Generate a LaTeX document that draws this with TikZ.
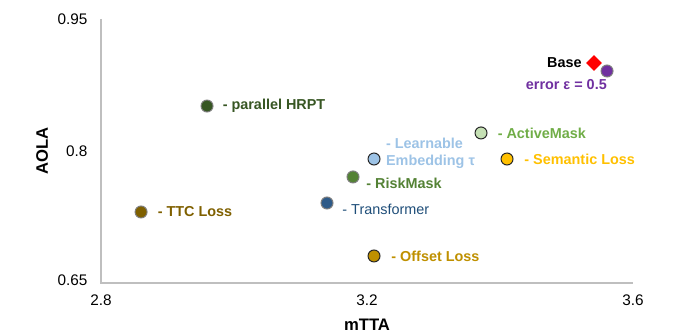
\documentclass[tikz,border=0pt]{standalone}
\usepackage{fontspec}
\setmainfont{Liberation Sans}
\usetikzlibrary{positioning,shapes.geometric}
\definecolor{axisgrey}{HTML}{BFBFBF}
\definecolor{rimgrey}{HTML}{7F7F7F}
\definecolor{hrptc}{HTML}{375623}
\definecolor{riskc}{HTML}{548235}
\definecolor{activec}{HTML}{C5E0B4}
\definecolor{activet}{HTML}{70AD47}
\definecolor{learnc}{HTML}{9DC3E6}
\definecolor{semc}{HTML}{FFC000}
\definecolor{transc}{HTML}{2E5A88}
\definecolor{transt}{HTML}{1F4E79}
\definecolor{ttcc}{HTML}{7F6000}
\definecolor{offc}{HTML}{BF9000}
\definecolor{errc}{HTML}{7030A0}
\tikzset{
    dot/.style = {circle, inner sep=0pt, minimum size=9pt, line width=0.75pt, draw=rimgrey},
    dotblack/.style = {dot, draw=black!85},
    lab/.style = {inner sep=0pt, font=\fontsize{10.8pt}{13pt}\selectfont\bfseries},
    ticklab/.style = {inner sep=0pt, font=\fontsize{11.5pt}{13pt}\selectfont},
    axtitle/.style = {inner sep=0pt, font=\fontsize{12.5pt}{14pt}\selectfont\bfseries}
}
\begin{document}
\begin{tikzpicture}[x=498.75pt,y=660pt]
        \useasboundingbox (2.6481,0.59091) rectangle (3.6887,0.97159);

        % axes
        \coordinate (ytop) at (2.8,0.95);
        \coordinate (orig) at (2.8,0.65);
        \coordinate (xend) at (3.6,0.65);
        \draw[axisgrey, line width=1pt] (ytop) -- (orig) -- (xend);

        \node[ticklab, anchor=east] (y95) at ([xshift=-10pt]ytop) {0.95};
        \node[ticklab, anchor=east] (y80) at ([xshift=-10pt]2.8,0.80) {0.8};
        \node[ticklab, anchor=east] (y65) at ([xshift=-10pt,yshift=2pt]orig) {0.65};
        \node[ticklab] (x28) at (2.8,0.63068) {2.8};
        \node[ticklab] (x32) at (3.2,0.63068) {3.2};
        \node[ticklab] (x36) at (3.6,0.63068) {3.6};
        \node[axtitle, rotate=90] (ytitle) at (2.7113,0.80) {AOLA};
        \node[axtitle] (xtitle) at (3.2,0.60227) {mTTA};

        % data points
        \node[dot, fill=hrptc] (hrpt) at (2.9594,0.8511) {};
        \node[diamond, fill=red, inner sep=0pt, minimum size=12pt] (base) at (3.5414,0.9000) {};
        \node[dot, fill=errc] (err) at (3.5609,0.8909) {};
        \node[dotblack, fill=activec] (active) at (3.3714,0.8205) {};
        \node[dotblack, fill=learnc] (learn) at (3.2105,0.7909) {};
        \node[dotblack, fill=semc] (sem) at (3.4105,0.7909) {};
        \node[dot, fill=riskc] (risk) at (3.1789,0.7705) {};
        \node[dot, fill=transc] (trans) at (3.1398,0.7409) {};
        \node[dot, fill=ttcc] (ttc) at (2.8602,0.7307) {};
        \node[dotblack, fill=offc] (offset) at (3.2105,0.6807) {};

        % labels
        \node[lab, text=hrptc, right=6.75pt of hrpt] (hrptlab) {- parallel HRPT};
        \node[lab, left=3pt of base] (baselab) {Base};
        \node[lab, text=errc, anchor=base east] (errlab) at ([yshift=-9pt]err.south) {error ε = 0.5};
        \node[lab, text=activet, right=7.5pt of active] (activelab) {- ActiveMask};
        \node[lab, text=learnc, align=left, anchor=west] (learnlab) at ([xshift=4pt,yshift=4.5pt]learn.east) {- Learnable\\Embedding τ};
        \node[lab, text=semc, right=8pt of sem] (semlab) {- Semantic Loss};
        \node[lab, text=riskc, anchor=west] (risklab) at ([xshift=5pt,yshift=-4.5pt]risk.east) {- RiskMask};
        \node[lab, font=\fontsize{10.8pt}{13pt}\selectfont, text=transt, anchor=west] (translab) at ([xshift=6.5pt,yshift=-5pt]trans.east) {- Transformer};
        \node[lab, text=ttcc, right=7.5pt of ttc] (ttclab) {- TTC Loss};
        \node[lab, text=offc, right=8pt of offset] (offsetlab) {- Offset Loss};
    \end{tikzpicture}
\end{document}
